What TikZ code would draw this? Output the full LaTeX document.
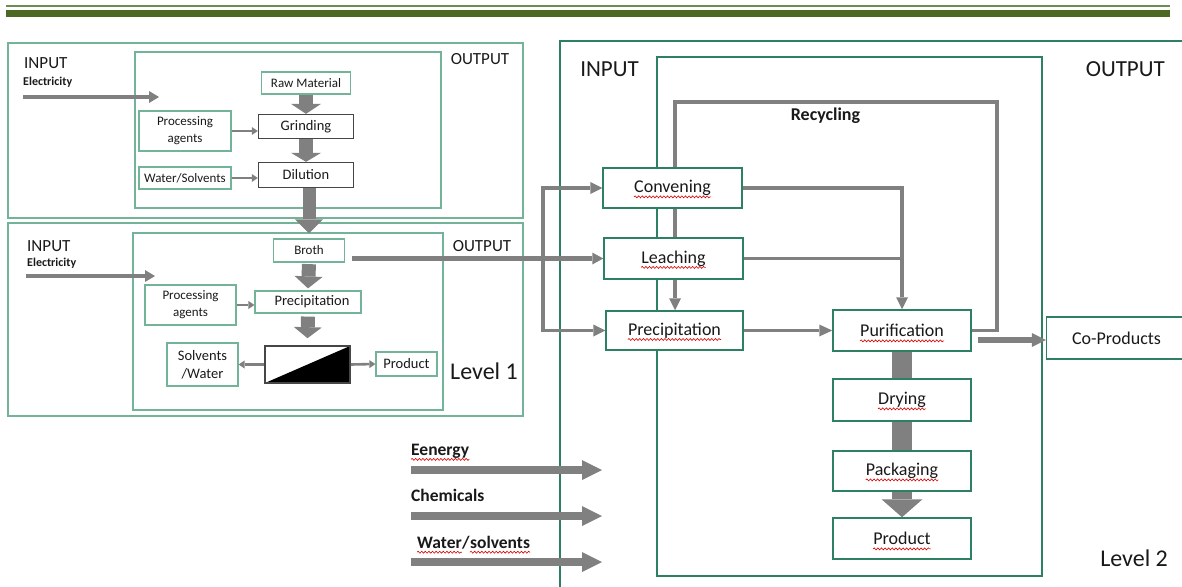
\documentclass[tikz,border=0pt]{standalone}
\usepackage{fontspec}
\setmainfont{Carlito}
\usetikzlibrary{arrows.meta,decorations.pathmorphing}
\definecolor{lonegreen}{RGB}{115,180,152}
\definecolor{ltwogreen}{RGB}{45,128,98}
\definecolor{arrgray}{RGB}{128,128,128}
\definecolor{boxgray}{RGB}{70,70,70}
\definecolor{olivedark}{RGB}{75,105,35}
\definecolor{olivelight}{RGB}{110,140,80}
\definecolor{txt}{RGB}{25,25,25}
\tikzset{
  every node/.style={text=txt, inner sep=0pt},
  sz/.style 2 args={minimum width=#1, minimum height=#2},
  bone/.style={draw=lonegreen, line width=1.2pt, align=center},
  bgrey/.style={draw=boxgray, line width=1.3pt, align=center},
  btwo/.style={draw=ltwogreen, line width=1.5pt, align=center, font=\fontsize{18}{21}\selectfont},
  ttwo/.style={font=\fontsize{18}{21}\selectfont},
  fsmall/.style={font=\fontsize{13}{17}\selectfont},
  fmid/.style={font=\fontsize{14.5}{18}\selectfont},
  fio/.style={font=\fontsize{17}{20}\selectfont},
  fbig/.style={font=\fontsize{23}{26}\selectfont},
  flvl/.style={font=\fontsize{24}{27}\selectfont},
  felec/.style={font=\bfseries\fontsize{12}{14}\selectfont},
  fin/.style={font=\bfseries\fontsize{17.5}{20}\selectfont},
  squig/.style={draw=red!85!black, line width=0.6pt, decorate, decoration={snake, segment length=3.6pt, amplitude=1pt}},
  blk/.style n args={3}{draw=arrgray, line width=#1, -{Triangle[width=#2, length=#3, line width=0pt]}},
  bar/.style={draw=arrgray, line width=20pt},
  thin/.style={draw=arrgray, line width=2.6pt, -{Triangle[width=8pt, length=6pt, line width=0pt]}},
  ln/.style={draw=arrgray, line width=3.5pt},
  lna/.style={draw=arrgray, line width=3.5pt, -{Triangle[width=12pt, length=12pt, line width=0pt]}},
  frameone/.style={draw=lonegreen, line width=1.2pt},
  frametwo/.style={draw=ltwogreen, line width=1.3pt},
}
\newcommand\wv[1]{\draw[squig] ([yshift=-4.2pt]#1.base west) -- ([yshift=-4.2pt]#1.base east);}
\begin{document}
\begin{tikzpicture}[x=1pt,y=-1pt]
\useasboundingbox (0,0) rectangle (1182,586);
\clip (0,0) rectangle (1182,586);
% header lines
\draw[olivelight, line width=2.3pt] (6,6.3) -- (1170,6.3);
\draw[olivedark, line width=7pt] (6,13.6) -- (1170,13.6);

% ---------- Level 1, upper ----------
\draw[frameone] (8,43) rectangle (523,218);
\draw[frameone] (135,52) rectangle (441,208);
\node[fio, anchor=west] (in1) at (24,63.5) {INPUT};
\node[felec, anchor=west] (el1) at (23,82) {Electricity};
\node[fio] (out1) at (480,59) {OUTPUT};
\coordinate (e1a) at (23,97);
\coordinate (e1b) at (159,97);
\draw[blk={3.5pt}{12pt}{10pt}] (e1a) -- (e1b);

\node[bone, sz={89}{22}, fsmall] (raw) at (306,83) {Raw Material};
\node[bgrey, sz={95}{24}, fmid] (grind) at (306,126.5) {Grinding};
\node[bgrey, sz={95}{25}, fmid] (dil) at (306,175) {Dilution};
\node[bone, sz={92}{40}, fsmall] (pa1) at (185,131) {Processing\\agents};
\node[bone, sz={92}{22}, fsmall] (ws) at (185,178) {Water/Solvents};

\draw[blk={14pt}{30pt}{10pt}] (raw.south) -- (grind.north);
\draw[blk={14pt}{30pt}{9pt}] (grind.south) -- (dil.north);
\draw[thin] (pa1.east) -- (grind.west |- pa1.east);
\draw[thin] (ws.east) -- (dil.west |- ws.east);

% ---------- Level 1, lower ----------
\draw[frameone] (8,223) rectangle (523,416);
\draw[frameone] (133,233) rectangle (443,410);
\node[fio, anchor=west] (in2) at (27,246) {INPUT};
\node[felec, anchor=west] (el2) at (27,263) {Electricity};
\node[fio] (out2) at (482,246) {OUTPUT};
\coordinate (e2a) at (26,276);
\coordinate (e2b) at (155,276);
\draw[blk={3.5pt}{12pt}{10pt}] (e2a) -- (e2b);

\node[bone, sz={71}{23}, fsmall] (broth) at (309,250.5) {Broth};
\node[bone, sz={91}{40}, fsmall] (pa2) at (190.5,305) {Processing\\agents};
\node[bone, sz={106}{22}, fmid] (prec1) at (308,302) {\hspace{8pt}Precipitation};
\node[draw=boxgray, line width=1.6pt, sz={85}{37},
      path picture={\fill[black] (path picture bounding box.south west) -- (path picture bounding box.north east) -- (path picture bounding box.south east) -- cycle;}] (sep) at (307.5,364.5) {};
\node[bone, sz={71}{43}, fmid] (sw) at (202.5,364.5) {Solvents\\/Water};
\node[bone, sz={61}{24}, fmid] (prod1) at (406.5,364) {Product};
\node[flvl, anchor=east] (lv1) at (518,371) {Level 1};

\draw[blk={13pt}{28pt}{14pt}] (broth.south |- dil.south) -- ([yshift=5pt]broth.north);
\draw[blk={14pt}{28pt}{12pt}] ([yshift=-1.5pt]broth.south) -- ([yshift=2pt]prec1.north);
\draw[blk={14pt}{28pt}{11pt}] ([yshift=-3pt]prec1.south) -- ([yshift=7pt]sep.north);
\draw[thin] (pa2.east) -- (prec1.west |- pa2.east);
\draw[thin] (sep.west) -- (sw.east);
\draw[thin] (sep.east) -- (prod1.west);

% ---------- Level 2 ----------
\draw[frametwo] (560,41) rectangle (1200,600);
\draw[frametwo] (657,57) rectangle (1042,576);
\node[fbig] (in3) at (609.5,69.5) {INPUT};
\node[fbig, anchor=east] (out3) at (1165,69.5) {OUTPUT};
\node[font=\bfseries\fontsize{18}{21}\selectfont] (rec) at (825.5,116) {Recycling};

\node[btwo, sz={139}{40}, fill=white] (conv) at (672.5,188) {};
\node[btwo, sz={139}{41}, fill=white] (leach) at (673.5,258.5) {};
\node[btwo, sz={137}{39}, fill=white] (prec2) at (674.5,330.5) {};
\node[btwo, sz={138}{41}] (puri) at (902,330.5) {};
\node[btwo, sz={138}{42}] (dry) at (902,400) {};
\node[btwo, sz={138}{40}] (pack) at (902,471) {};
\node[btwo, sz={138}{41}] (prod2) at (902,538.5) {};
\node[btwo, sz={140}{42}] (copr) at (1116.5,338) {Co-Products};
\node[flvl, anchor=east] (lv2) at (1168,558) {Level 2};

\node[ttwo] (convt) at (conv) {Convening};
\node[ttwo] (leacht) at (leach) {Leaching};
\node[ttwo] (prec2t) at (prec2) {Precipitation};
\node[ttwo] (purit) at (puri) {Purification};
\node[ttwo] (dryt) at (dry) {Drying};
\node[ttwo] (packt) at (pack) {Packaging};
\node[ttwo] (prod2t) at (prod2) {Product};
\wv{convt}\wv{leacht}\wv{prec2t}\wv{purit}\wv{dryt}\wv{packt}\wv{prod2t}

% redraw inner frame lines over box fills (left side)
\draw[ltwogreen, line width=1.3pt] (657,208) -- (657,238) (657,279) -- (657,311) (657,350) -- (657,576);

\coordinate (rx) at (675,0);
\coordinate (vx) at (543,0);
\coordinate (bout) at (352,258.5);
% recycling loop
\draw[ln] (puri.east) -| (997,102) -| (rx |- conv.north);
\draw[ln] (rx |- conv.south) -- (rx |- leach.north);
\draw[lna] (rx |- leach.south) -- (rx |- prec2.north);
\draw[lna] (conv.east) -| (puri.north);
\draw[ln] (leach.east) -- (leach.east -| puri.north);
\draw[blk={3.5pt}{12pt}{13pt}] (prec2.east) -- (puri.west);
% inputs
\draw[blk={5pt}{12pt}{11pt}] (bout) -- (leach.west);
\draw[ln] ([yshift=1.75pt]vx |- conv) -- ([yshift=-1.75pt]vx |- prec2);
\draw[lna] ([xshift=-1.75pt]vx |- conv) -- (conv.west);
\draw[lna] ([xshift=-1.75pt]vx |- prec2) -- (prec2.west);
% outputs
\coordinate (cpy) at (0,340);
\draw[blk={6pt}{14pt}{14pt}] ([xshift=6pt]puri.east |- cpy) -- (copr.west |- cpy);
\draw[bar] (puri.south) -- (dry.north);
\draw[bar] (dry.south) -- (pack.north);
\draw[blk={20pt}{41pt}{18pt}] (pack.south) -- (prod2.north);

% left inputs to level 2
\node[fin, anchor=west] (ten) at (411,451) {Eenergy};
\node[fin, anchor=west] (tch) at (411,495) {Chemicals};
\node[fin, anchor=base west] (twa1) at (417,548) {Water};
\node[fin, anchor=base west] (twsl) at (twa1.base east) {/};
\node[fin, anchor=base west] (twa2) at (twsl.base east) {solvents};
\wv{ten}\wv{twa1}\wv{twa2}
\coordinate (a1s) at (411,470); \coordinate (a1e) at (602,470);
\coordinate (a2s) at (411,516); \coordinate (a2e) at (602,516);
\coordinate (a3s) at (411,562); \coordinate (a3e) at (602,562);
\draw[blk={8pt}{20pt}{20pt}] (a1s) -- (a1e);
\draw[blk={8pt}{20pt}{20pt}] (a2s) -- (a2e);
\draw[blk={8pt}{20pt}{20pt}] (a3s) -- (a3e);
\end{tikzpicture}
\end{document}
